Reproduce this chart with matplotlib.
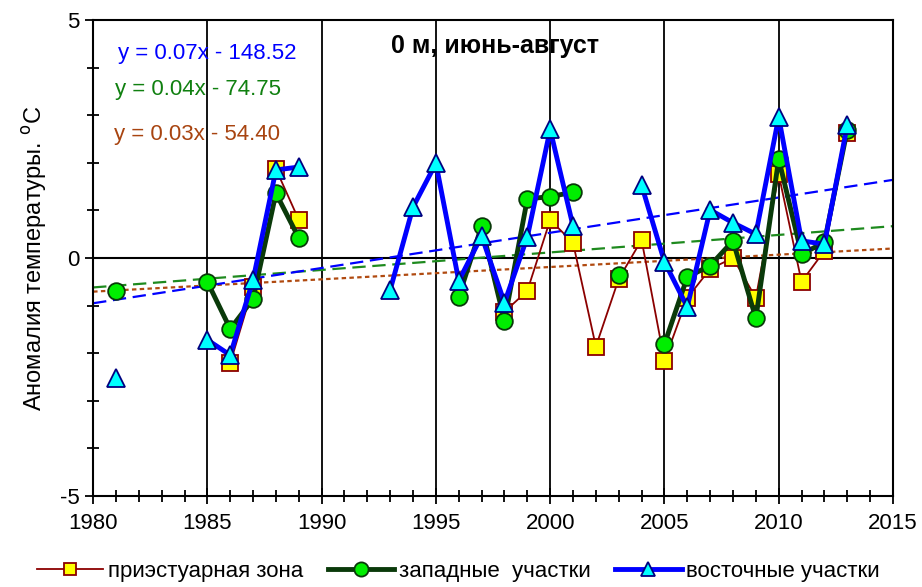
import numpy as np
import matplotlib
matplotlib.use("Agg")
import matplotlib.pyplot as plt
from matplotlib.ticker import MultipleLocator

plt.rcParams['font.family'] = ['Liberation Sans Narrow', 'Liberation Sans', 'DejaVu Sans']
plt.rcParams['axes.unicode_minus'] = False

nan = np.nan
years = np.arange(1981, 2014)

# приэстуарная зона
estuary = [nan, nan, nan, nan, nan, -2.21, -0.61, 1.87, 0.80,
           nan, nan, nan, nan, nan, nan, nan, nan, -1.13, -0.69,
           0.80, 0.32, -1.86, -0.44, 0.38, -2.16, -0.84, -0.23, 0.00,
           -0.84, 1.76, -0.50, 0.15, 2.63]
# западные участки
west = [-0.69, nan, nan, nan, -0.50, -1.49, -0.86, 1.36, 0.42,
        nan, nan, nan, nan, nan, nan, -0.81, 0.67, -1.32, 1.24,
        1.29, 1.38, nan, -0.35, nan, -1.81, -0.40, -0.16, 0.36,
        -1.27, 2.08, 0.08, 0.33, 2.69]
# восточные участки
east = [-2.52, nan, nan, nan, -1.72, -2.04, -0.46, 1.85, 1.91,
        nan, nan, nan, -0.67, 1.07, 1.99, -0.48, 0.46, -0.94, 0.44,
        2.70, 0.67, nan, nan, 1.53, -0.08, -1.03, 1.01, 0.74,
        0.50, 2.96, 0.36, 0.29, 2.79]

labels = ['приэстуарная зона', 'западные  участки', 'восточные участки']
equations = ['y = 0.07x - 148.52', 'y = 0.04x - 74.75', 'y = 0.03x - 54.40']

fig = plt.figure(figsize=(9.22, 5.87), dpi=100)
ax = fig.add_axes([0.101, 0.155, 0.8675, 0.811])

xs = np.array([1980, 2015])


def trend(vals):
    v = np.array(vals, dtype=float)
    ok = ~np.isnan(v)
    k, b = np.polyfit(years[ok], v[ok], 1)
    return k * xs + b


ax.plot(xs, trend(estuary), color='#B04A10', lw=1.6, ls=(0, (2, 1.5)), zorder=2)
ax.plot(xs, trend(west), color='#1E8A1E', lw=1.6, ls=(0, (6, 3)), zorder=2)
ax.plot(xs, trend(east), color='#0000FF', lw=1.6, ls=(0, (6, 3)), zorder=2)

l1, = ax.plot(years, estuary, color='#8B0000', lw=1.3, marker='s', ms=11,
              mfc='#FFFF00', mec='#8B0000', mew=1.3, zorder=3)
l2, = ax.plot(years, west, color='#0A3A0A', lw=3.5, marker='o', ms=12,
              mfc='#00EE00', mec='#0A3A0A', mew=1.3, zorder=4)
l3, = ax.plot(years, east, color='#0000FF', lw=3.5, marker='^', ms=12.5,
              mfc='#00FFFF', mec='#000080', mew=1.3, zorder=5)

ax.axhline(0, color='black', lw=1.5, zorder=1)
ax.set_xlim(1980, 2015)
ax.set_ylim(-5, 5)
ax.xaxis.set_major_locator(MultipleLocator(5))
ax.xaxis.set_minor_locator(MultipleLocator(1))
ax.yaxis.set_major_locator(MultipleLocator(5))
ax.yaxis.set_minor_locator(MultipleLocator(1))
ax.grid(axis='x', which='major', color='black', lw=1.3, zorder=1)
ax.set_axisbelow(True)
ax.tick_params(which='both', direction='inout', labelsize=16, width=1.3)
ax.tick_params(which='major', length=12)
ax.tick_params(which='minor', length=8)
ax.tick_params(axis='x', pad=6)
for s in ax.spines.values():
    s.set_linewidth(1.5)

ax.set_ylabel('Аномалия температуры. $^{\\mathrm{o}}$C', fontsize=17, labelpad=8)

ax.text(1981.1, 4.3, equations[0], color='#0000FF', fontsize=16, va='center')
ax.text(1980.95, 3.53, equations[1], color='#108010', fontsize=16, va='center')
ax.text(1980.9, 2.6, equations[2], color='#A84410', fontsize=16, va='center')
ax.text(1997.6, 4.45, '0 м, июнь-август', fontsize=18, fontweight='bold',
        ha='center', va='center', zorder=0)

fig.legend([l1, l2, l3], labels, loc='center', bbox_to_anchor=(0.497, 0.026),
           ncol=3, frameon=False, fontsize=16, numpoints=1, handlelength=3.0,
           handletextpad=0.2, columnspacing=1.1, markerscale=0.85)

fig.savefig('out.png', dpi=100)
